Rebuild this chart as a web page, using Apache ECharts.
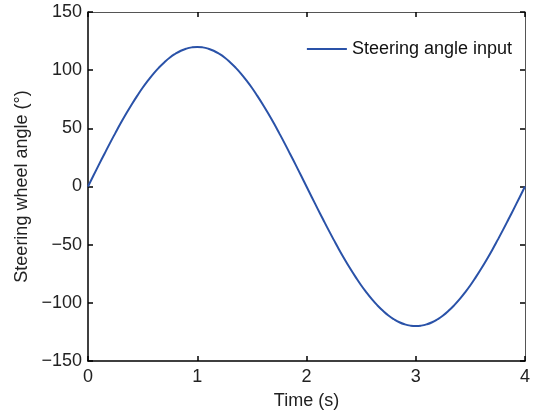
<!DOCTYPE html>
<html>
<head>
<meta charset="utf-8" />
<title>Steering angle input</title>
<script type="text/javascript" src="https://cdn.jsdelivr.net/npm/echarts@6/dist/echarts.min.js"></script>
</head>
<body style="margin:0;background-color:white;">
<div id="main" style="width:533px;height:410px;background-color:white;"></div>
<script type="text/javascript">
// values, one every 0.05 s
var timeS = [0, 0.05, 0.1, 0.15, 0.2, 0.25, 0.3, 0.35, 0.4, 0.45,
             0.5, 0.55, 0.6, 0.65, 0.7, 0.75, 0.8, 0.85, 0.9, 0.95,
             1.0, 1.05, 1.1, 1.15, 1.2, 1.25, 1.3, 1.35, 1.4, 1.45,
             1.5, 1.55, 1.6, 1.65, 1.7, 1.75, 1.8, 1.85, 1.9, 1.95,
             2.0, 2.05, 2.1, 2.15, 2.2, 2.25, 2.3, 2.35, 2.4, 2.45,
             2.5, 2.55, 2.6, 2.65, 2.7, 2.75, 2.8, 2.85, 2.9, 2.95,
             3.0, 3.05, 3.1, 3.15, 3.2, 3.25, 3.3, 3.35, 3.4, 3.45,
             3.5, 3.55, 3.6, 3.65, 3.7, 3.75, 3.8, 3.85, 3.9, 3.95, 4.0];
var angleDeg = [0, 9.4, 18.8, 28.0, 37.1, 45.9, 54.5, 62.7, 70.5, 77.9,
                84.9, 91.2, 97.1, 102.3, 106.9, 110.9, 114.1, 116.7, 118.5, 119.6,
                120, 119.6, 118.5, 116.7, 114.1, 110.9, 106.9, 102.3, 97.1, 91.2,
                84.9, 77.9, 70.5, 62.7, 54.5, 45.9, 37.1, 28.0, 18.8, 9.4,
                0, -9.4, -18.8, -28.0, -37.1, -45.9, -54.5, -62.7, -70.5, -77.9,
                -84.9, -91.2, -97.1, -102.3, -106.9, -110.9, -114.1, -116.7, -118.5, -119.6,
                -120, -119.6, -118.5, -116.7, -114.1, -110.9, -106.9, -102.3, -97.1, -91.2,
                -84.9, -77.9, -70.5, -62.7, -54.5, -45.9, -37.1, -28.0, -18.8, -9.4, 0];
var seriesName = 'Steering angle input';

var pts = [];
for (var i = 0; i < timeS.length; i++) {
    pts.push([timeS[i], angleDeg[i]]);
}

function fmt(v) {
    return v < 0 ? '\u2212' + (-v) : '' + v;
}

var font = 'Liberation Sans, Arial, sans-serif';
var txt = { color: '#222', fontSize: 18, fontFamily: font };

var myChart = echarts.init(document.getElementById('main'));
myChart.setOption({
    animation: false,
    grid: { left: 88, right: 8, top: 12, bottom: 49, show: false, outerBoundsMode: 'none', containLabel: false },
    legend: {
        data: [seriesName],
        right: 16, top: 35,
        itemWidth: 40, itemHeight: 10, itemGap: 5,
        icon: 'path://M0,4L40,4L40,6L0,6Z',
        textStyle: { color: '#111', fontSize: 18, fontFamily: font }
    },
    xAxis: [
        {
            type: 'value', min: 0, max: 4, interval: 1,
            name: 'Time (s)', nameLocation: 'middle', nameGap: 31,
            nameTextStyle: txt,
            axisLine: { show: true, onZero: false, lineStyle: { color: '#000', width: 1.5 } },
            axisTick: { show: true, inside: true, length: 5, lineStyle: { color: '#000', width: 1.5 } },
            axisLabel: { color: txt.color, fontSize: 18, fontFamily: font, margin: 7 },
            splitLine: { show: false }
        },
        {
            type: 'value', min: 0, max: 4, interval: 1, position: 'top',
            axisLine: { show: true, onZero: false, lineStyle: { color: '#555', width: 1 } },
            axisTick: { show: true, inside: true, length: 5, lineStyle: { color: '#000', width: 1.5 } },
            axisLabel: { show: false },
            splitLine: { show: false }
        }
    ],
    yAxis: [
        {
            type: 'value', min: -150, max: 150, interval: 50,
            name: 'Steering wheel angle (\u00b0)', nameLocation: 'middle', nameGap: 56,
            nameTextStyle: txt,
            axisLine: { show: true, onZero: false, lineStyle: { color: '#000', width: 1.5 } },
            axisTick: { show: true, inside: true, length: 5, lineStyle: { color: '#000', width: 1.5 } },
            axisLabel: { color: txt.color, fontSize: 18, fontFamily: font, margin: 6, formatter: fmt },
            splitLine: { show: false }
        },
        {
            type: 'value', min: -150, max: 150, interval: 50, position: 'right',
            axisLine: { show: true, onZero: false, lineStyle: { color: '#555', width: 1 } },
            axisTick: { show: true, inside: true, length: 5, lineStyle: { color: '#000', width: 1.5 } },
            axisLabel: { show: false },
            splitLine: { show: false }
        }
    ],
    series: [
        {
            name: seriesName,
            type: 'line',
            data: pts,
            smooth: true,
            showSymbol: false,
            color: '#2a52a8',
            lineStyle: { width: 2, color: '#2a52a8' }
        }
    ]
});
</script>
</body>
</html>
